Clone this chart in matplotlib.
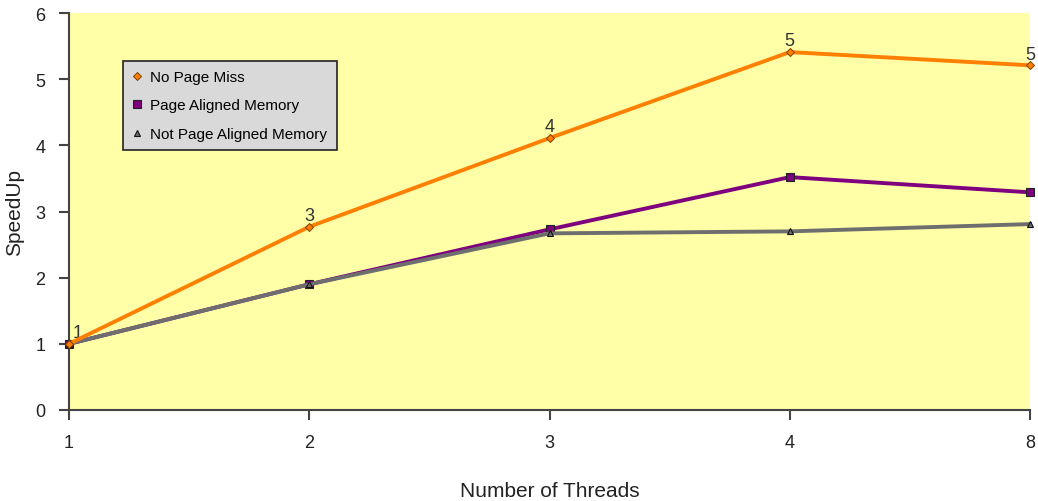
import matplotlib.pyplot as plt
import numpy as np

plt.rcParams['font.family'] = ['Liberation Sans', 'DejaVu Sans']

threads = ["1", "2", "3", "4", "8"]
no_page_miss = [1.0, 2.77, 4.11, 5.41, 5.21]
page_aligned = [1.0, 1.90, 2.73, 3.52, 3.29]
not_page_aligned = [1.0, 1.90, 2.67, 2.70, 2.81]
point_labels = ["1", "3", "4", "5", "5"]

fig = plt.figure(figsize=(10.38, 5.02), dpi=100)
ax = fig.add_axes([0.0665, 0.1813, 0.9258, 0.7907])
ax.set_facecolor("#FFFFA8")

x = np.arange(len(threads))
ax.plot(x, no_page_miss, color="#FF7F00", lw=2.8, marker="D", ms=4,
        mfc="#FF7F00", mec="#7F4000", mew=0.7, label="No Page Miss", zorder=4, clip_on=False)
ax.plot(x, page_aligned, color="#7F007F", lw=2.8, marker="s", ms=6,
        mfc="#7F007F", mec="#222222", mew=0.8, label="Page Aligned Memory", zorder=3, clip_on=False)
ax.plot(x, not_page_aligned, color="#6E6E6E", lw=2.8, marker="^", ms=5,
        mfc="#6E6E6E", mec="#111111", mew=0.8, label="Not Page Aligned Memory", zorder=3, clip_on=False)

for i, (xi, yi, t) in enumerate(zip(x, no_page_miss, point_labels)):
    dx = 6 if i == 0 else 0
    ax.annotate(t, (xi, yi), xytext=(dx, 2), textcoords="offset points",
                ha="center", va="bottom", fontsize=13, color="#333333")

ax.set_xlim(0, len(threads) - 1)
ax.set_ylim(0, 6)
ax.set_xticks(x)
ax.set_xticklabels(threads)
ax.set_yticks(range(7))
for s in ["top", "right"]:
    ax.spines[s].set_visible(False)
for s in ["left", "bottom"]:
    ax.spines[s].set_color("#444444")
    ax.spines[s].set_linewidth(1.5)
ax.tick_params(direction="out", length=7, width=1.5, color="#444444",
               labelsize=13, labelcolor="#222222", pad=10)
ax.set_xlabel("Number of Threads", fontsize=15, color="#222222", labelpad=22)
ax.set_ylabel("SpeedUp", fontsize=15, color="#222222", labelpad=8)

leg = ax.legend(loc="upper left", bbox_to_anchor=(0.056, 0.88), fontsize=11,
                frameon=True, fancybox=False, facecolor="#D9D9D9", edgecolor="#222222",
                framealpha=1, handlelength=0.6, handletextpad=0.6, borderpad=0.6,
                labelspacing=0.95, borderaxespad=0)
for h in leg.legend_handles:
    h.set_linestyle("none")
leg.get_frame().set_linewidth(1.2)

fig.savefig("out.png", dpi=100, facecolor="white")
